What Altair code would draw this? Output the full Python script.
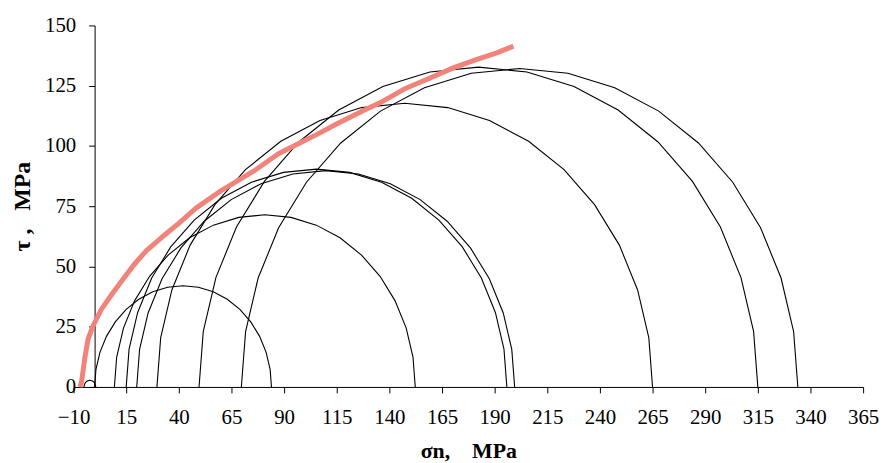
import altair as alt
import pandas as pd
import numpy as np

# Mohr circles: minor (sigma3) and major (sigma1) principal stresses, MPa
sigma3 = [-5.0, 0.0, 9.4, 15.0, 20.0, 29.6, 49.6, 69.7]
sigma1 = [0.5, 84.0, 152.3, 195.8, 199.5, 265.0, 315.0, 334.0]

# Failure envelope (sigma_n, tau), MPa
env_sigma = [-7.0, -6.2, -4.7, -3.1, -0.7, 3.2, 8.7, 13.4, 18.5, 24.5, 31.5, 40.1,
             48.0, 60.5, 68.4, 76.3, 87.3, 96.7, 106.1, 115.6, 128.2, 136.0, 147.0,
             158.0, 170.6, 181.6, 191.0, 198.9]
env_tau = [0.0, 2.1, 11.7, 19.9, 25.4, 32.2, 39.1, 44.6, 50.5, 56.5, 61.8, 68.0,
           74.1, 81.7, 85.8, 90.0, 96.8, 100.9, 105.0, 109.4, 114.9, 118.1, 123.6,
           127.7, 132.5, 135.9, 138.6, 141.4]

x_ticks = [-10, 15, 40, 65, 90, 115, 140, 165, 190, 215, 240, 265, 290, 315, 340, 365]
y_ticks = [0, 25, 50, 75, 100, 125, 150]

# Build semicircle polylines from sigma3/sigma1 (10 degree steps)
angles = np.arange(0, 181, 10)
rows = []
for i, (s3, s1) in enumerate(zip(sigma3, sigma1)):
    c = (s1 + s3) / 2.0
    r = (s1 - s3) / 2.0
    for k, a in enumerate(angles):
        rows.append({"circle": i, "order": k,
                     "sigma": c + r * np.cos(np.radians(a)),
                     "tau": r * np.sin(np.radians(a))})
circles = pd.DataFrame(rows)
env = pd.DataFrame({"sigma": env_sigma, "tau": env_tau, "order": range(len(env_sigma))})

W, H = 795, 364
px_per_unit = W / (365 - (-10))

xscale = alt.Scale(domain=[-10, 365], nice=False, zero=False)
yscale = alt.Scale(domain=[0, 150], nice=False, zero=False)

FONT = "Liberation Serif"
NB = "\u00a0"

xaxis = alt.Axis(values=x_ticks, grid=False, tickSize=6, labelPadding=14,
                 labelFontSize=21, labelFont=FONT, labelColor="black",
                 domainColor="black", tickColor="black", labelFlush=False,
                 title="σn," + NB * 4 + "MPa", titleFont=FONT, titleFontSize=22,
                 titleFontWeight="bold", titleColor="black", titlePadding=13)
yaxis = alt.Axis(values=y_ticks, grid=False, tickSize=6, labelPadding=13,
                 labelFontSize=21, labelFont=FONT, labelColor="black",
                 domainColor="black", tickColor="black", offset=-10 * px_per_unit,
                 title="τ" + NB + "," + NB * 3 + "MPa", titleFont=FONT, titleFontSize=24,
                 titleFontWeight="bold", titleColor="black", titlePadding=10)

circ = alt.Chart(circles).mark_line(color="black", strokeWidth=1.1).encode(
    x=alt.X("sigma:Q", scale=xscale, axis=xaxis),
    y=alt.Y("tau:Q", scale=yscale, axis=yaxis),
    detail="circle:N",
    order="order:Q",
)

envelope = alt.Chart(env).mark_line(color="#F2837B", strokeWidth=5, strokeJoin="round").encode(
    x=alt.X("sigma:Q", scale=xscale),
    y=alt.Y("tau:Q", scale=yscale),
    order="order:Q",
)

chart = (circ + envelope).properties(
    width=W, height=H,
    padding={"left": 66, "top": 16, "right": 16, "bottom": 74},
    autosize=alt.AutoSizeParams(type="none"),
).configure_view(stroke=None)

chart.save("out.html", embed_options={"renderer": "svg", "actions": False})
